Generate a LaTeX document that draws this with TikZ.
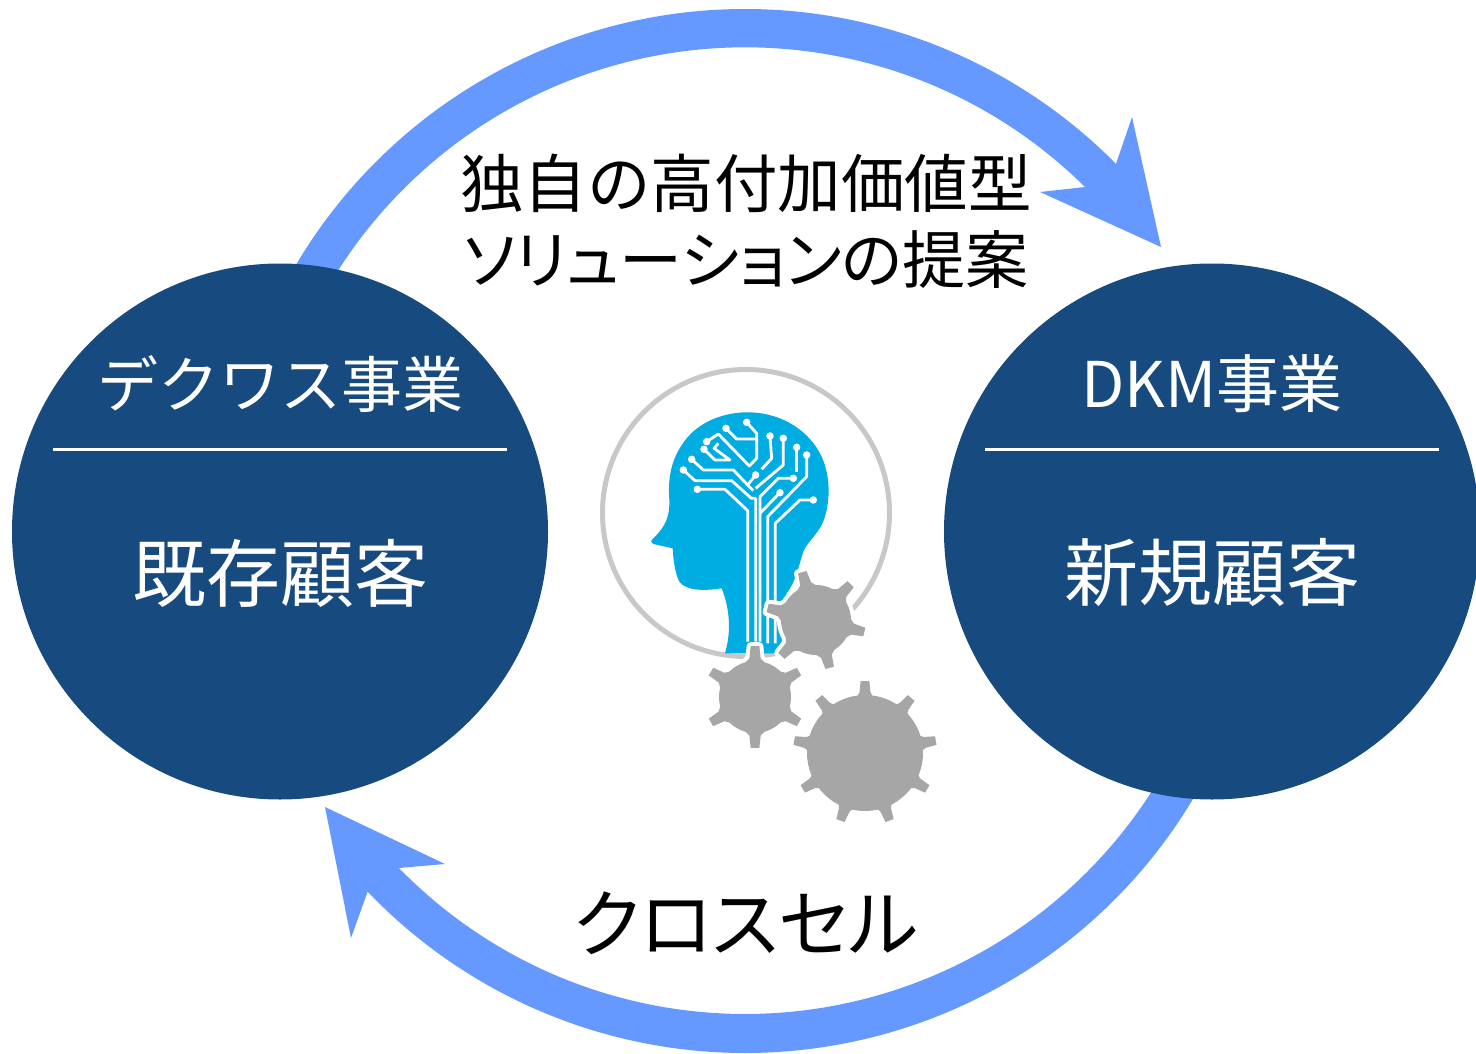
\documentclass[tikz,border=0pt]{standalone}
\usepackage{fontspec}
\setmainfont{Noto Sans CJK JP}
\definecolor{navy}{HTML}{174A7E}
\definecolor{arrowblue}{HTML}{6699FF}
\definecolor{headblue}{HTML}{00ADE2}
\definecolor{gearg}{HTML}{A6A6A6}
\definecolor{ringg}{HTML}{C8C8C8}
\tikzset{
  bigcircle/.style={circle,fill=navy,minimum size=536pt,inner sep=0pt},
  rulew/.style={draw=white,line width=3.5pt},
  whitetxt/.style={text=white,inner sep=0pt,anchor=center},
  blacktxt/.style={text=black,inner sep=0pt,anchor=center},
  trace/.style={draw=white,line width=2.8pt,line join=round},
  cdot/.style={circle,fill=white,inner sep=0pt,minimum size=7.5pt},
}
\newcommand{\gearpath}[6]{% centre, body r, tip r, start, n, flare
  \foreach \k in {1,...,#5}{
    \pgfmathsetmacro{\aa}{#4+(\k-1)*360/#5}
    \path[gearstyle] ([shift={#1}]\aa-#6*50/#2:#2-1) -- ([shift={#1}]\aa-6*50/#2:#2+3)
      -- ([shift={#1}]\aa-5*50/#3:#3) -- ([shift={#1}]\aa+5*50/#3:#3)
      -- ([shift={#1}]\aa+6*50/#2:#2+3) -- ([shift={#1}]\aa+#6*50/#2:#2-1) -- cycle;
  }
  \path[gearstyle] #1 circle[radius=#2];
}
\begin{document}
\begin{tikzpicture}[x=1pt,y=-1pt]
\useasboundingbox (0,0) rectangle (1476,1054);
% arrows
\coordinate (arc) at (745,531);
\fill[arrowblue] ([shift={(arc)}]207:522) arc[start angle=207,end angle=315.3,radius=522]
  -- (1132,117) -- (1161,247) -- (1040,192) -- (1085,187)
  arc[start angle=314.7,end angle=207,radius=483] -- cycle;
\fill[arrowblue] ([shift={(arc)}]25:522) arc[start angle=25,end angle=136.3,radius=522]
  -- (351,938) -- (325,807) -- (445,864) -- (399,868)
  arc[start angle=135.75,end angle=25,radius=483] -- cycle;
% circles
\node[bigcircle] (left) at (280,531.5) {};
\node[bigcircle] (right) at (1212,531.5) {};
\draw[rulew] (53,449.5) -- (507,449.5);
\draw[rulew] (985,449.5) -- (1439,449.5);
\node[whitetxt,font=\fontsize{61}{61}\selectfont] (lt) at (280,384) {デクワス事業};
\node[whitetxt,font=\fontsize{74}{74}\selectfont] (lb) at (280,573) {既存顧客};
\node[whitetxt,font=\fontsize{63}{63}\selectfont] (rt) at (1212,384) {DKM事業};
\node[whitetxt,font=\fontsize{74}{74}\selectfont] (rb) at (1212,573) {新規顧客};
\node[blacktxt,font=\fontsize{63.5}{63.5}\selectfont] (t1) at (746,183) {独自の高付加価値型};
\node[blacktxt,font=\fontsize{63}{63}\selectfont] (t2) at (746,260) {\addfontfeatures{RawFeature=+palt}ソリューションの提案};
\node[blacktxt,font=\fontsize{74}{74}\selectfont] (t3) at (746,923) {\addfontfeatures{RawFeature=+palt}クロスセル};
% ring
\draw[ringg,line width=5pt] (746,513) circle[radius=143.5];
% head
\begin{scope}[shift={(590,360)},x=0.3333pt,y=-0.3333pt]
\fill[headblue] (405,880) .. controls (420,830) and (425,760) .. (395,685)
 .. controls (350,692) and (290,695) .. (268,665)
 .. controls (255,640) and (250,600) .. (248,565)
 -- (190,552) .. controls (178,545) and (185,540) .. (195,530)
 .. controls (225,500) and (240,470) .. (238,420)
 .. controls (232,340) and (250,285) .. (290,235)
 .. controls (340,175) and (420,155) .. (480,157)
 .. controls (580,160) and (660,215) .. (695,290)
 .. controls (722,350) and (720,420) .. (705,470)
 .. controls (690,520) and (655,540) .. (640,575)
 .. controls (625,620) and (620,660) .. (590,700)
 -- (575,880) -- cycle;
\draw[trace] (322,388) -- (405,388) -- (473,452) -- (473,845);
\draw[trace] (280,330) -- (315,362) -- (425,362) -- (484,415) -- (497,415) -- (497,845);
\draw[trace] (305,298) -- (340,330) -- (430,330) -- (473,375) -- (497,345);
\draw[trace] (473,375) -- (490,392);
\draw[trace] (497,385) -- (580,315) -- (580,235);
\draw[trace] (510,845) -- (510,410) -- (565,355) -- (610,355);
\draw[trace] (510,460) -- (570,398);
\draw[trace] (533,850) -- (533,470) -- (650,350) -- (650,285);
\draw[trace] (556,850) -- (556,490) -- (630,420) -- (670,420);
\draw[trace] (620,262) -- (620,335);
\draw[trace] (540,228) -- (545,295) -- (515,328);
\draw[trace] (470,187) -- (500,220) -- (500,295) -- (478,318) -- (385,222) -- (350,245);
\draw[trace] (408,205) -- (440,237) -- (500,237);
\draw[trace] (342,268) -- (375,300) -- (420,300) -- (372,265) -- (385,250);
\foreach \p/\n in {322/388,280/330,305/298,497/345,580/235,610/355,570/398,650/285,670/420,620/262,540/228,470/187,350/245,408/205,342/268}
  \node[cdot] at (\p,\n) {};
\end{scope}
% gears
\tikzset{gearstyle/.style={fill=white,draw=white,line width=8pt,line join=round}}
\gearpath{(816,620)}{35}{50}{14}{6}{13}
\tikzset{gearstyle/.style={fill=gearg}}
\gearpath{(816,620)}{35}{50}{14}{6}{13}
\tikzset{gearstyle/.style={fill=white,draw=white,line width=8pt,line join=round}}
\gearpath{(755,697)}{36}{51}{-90}{6}{13}
\tikzset{gearstyle/.style={fill=gearg}}
\gearpath{(755,697)}{36}{51}{-90}{6}{13}
\gearpath{(865,753)}{58}{72}{-90}{9}{9}
\end{tikzpicture}
\end{document}
